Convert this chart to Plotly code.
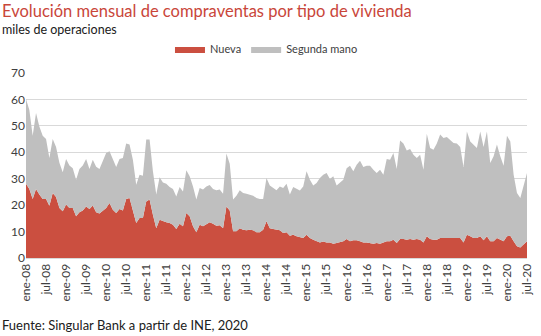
import plotly.graph_objects as go

meses = ["ene", "feb", "mar", "abr", "may", "jun", "jul", "ago", "sep", "oct", "nov", "dic"]
fechas = [f"{meses[m]}-{str(y)[2:]}" for y in range(2008, 2021) for m in range(12)][:151]

nueva = [
    28.1, 26.1, 22.3, 26.1, 24.0, 22.3, 22.3, 19.8, 24.6, 23.1, 18.9, 17.7,
    20.2, 18.9, 18.9, 15.8, 17.3, 18.0, 19.5, 18.5, 19.9, 17.3,
    16.8, 17.7, 18.9, 20.8, 18.3, 17.0, 18.5, 18.0, 22.3, 22.7, 18.3, 13.2,
    15.1, 15.1, 21.4, 22.1, 16.4, 11.3, 14.5, 13.9, 13.5, 13.2,
    12.6, 11.0, 13.0, 12.0, 17.0, 15.8, 12.0, 9.7, 12.6, 12.0, 12.6, 13.5,
    13.0, 12.2, 12.4, 11.3, 19.5, 18.0, 10.1, 10.1, 11.3,
    10.7, 10.5, 10.7, 10.5, 9.7, 9.7, 10.7, 13.9, 11.3, 11.0, 10.7, 10.5,
    9.5, 9.7, 8.4, 8.8, 8.2, 7.9, 7.6, 8.8, 7.6,
    6.9, 6.3, 5.9, 6.2, 5.9, 5.9, 5.4, 5.7, 5.9, 6.3, 7.2, 6.3,
    6.7, 6.7, 6.3, 5.9, 5.9, 5.7, 5.4, 5.7, 5.4,
    5.9, 6.3, 6.3, 6.9, 5.7, 7.2, 7.2, 6.9, 7.2, 6.9, 7.2, 6.9,
    5.9, 8.2, 7.2, 6.9, 6.9, 7.6, 7.6, 7.6, 7.6, 7.6,
    7.6, 7.6, 5.9, 8.8, 8.2, 7.6, 7.6, 8.2, 6.7, 8.2, 6.3, 6.3,
    7.6, 6.9, 6.3, 8.2, 8.4, 6.3, 4.4, 4.0, 5.0, 6.3,
]

segunda_mano = [
    32.1, 29.9, 24.0, 28.8, 25.8, 24.0, 22.7, 18.0, 20.4, 18.9, 17.1, 14.7,
    17.3, 16.1, 15.1, 13.8, 16.4, 17.0, 18.0, 15.2, 17.3, 17.2,
    16.9, 18.9, 20.8, 19.6, 18.9, 17.4, 19.0, 19.8, 21.0, 20.2, 18.9, 14.5,
    16.4, 16.0, 23.4, 22.7, 16.4, 12.7, 16.1, 14.7, 14.6, 13.7,
    13.5, 12.3, 13.9, 13.2, 16.2, 15.1, 15.1, 12.4, 13.9, 13.9, 14.5, 14.1,
    13.1, 13.4, 13.5, 13.0, 20.0, 17.7, 12.0, 13.5, 14.3,
    13.9, 13.8, 13.3, 13.1, 13.0, 12.6, 11.6, 16.4, 16.1, 15.5, 14.9, 16.6,
    17.0, 18.4, 15.6, 18.1, 17.9, 17.6, 19.5, 24.0, 22.0,
    20.5, 22.1, 24.4, 25.3, 26.3, 24.0, 25.5, 21.7, 22.7, 23.3, 26.8, 28.6,
    26.1, 28.6, 30.5, 28.5, 29.0, 29.2, 28.0, 26.5, 28.0,
    25.6, 31.2, 30.9, 32.8, 28.0, 37.3, 36.1, 33.8, 34.0, 32.2, 30.6, 32.2,
    27.5, 38.8, 34.4, 34.1, 36.4, 39.1, 37.8, 38.2, 36.9, 35.9,
    35.7, 34.4, 28.5, 39.1, 35.9, 35.3, 34.0, 39.7, 35.3, 39.7, 29.6, 32.2,
    35.3, 31.6, 28.6, 38.1, 35.7, 25.2, 20.2, 18.7, 22.1, 25.9,
]

x = list(range(len(fechas)))
tick_idx = x[::6]
tick_txt = [fechas[i] for i in tick_idx]

ROJO = "#CB4F40"
GRIS = "#BFBFBF"
FONT = "Lato"

fig = go.Figure()
fig.add_trace(go.Scatter(x=x, y=nueva, name="Nueva", mode="lines", stackgroup="a",
                         line=dict(width=0, color=ROJO), fillcolor=ROJO))
fig.add_trace(go.Scatter(x=x, y=segunda_mano, name="Segunda mano", mode="lines", stackgroup="a",
                         line=dict(width=0, color=GRIS), fillcolor=GRIS))

PH = 185.0
fig.update_layout(
    width=541, height=336,
    margin=dict(l=26, r=14, t=73, b=78, autoexpand=False),
    paper_bgcolor="white", plot_bgcolor="white",
    font=dict(family=FONT, size=12, color="#404040"),
    showlegend=True,
    legend=dict(orientation="h", x=0.48, xanchor="center", y=1 + (73 - 49) / PH, yanchor="middle",
                traceorder="normal", font=dict(size=11, color="#404040"),
                itemwidth=30, tracegroupgap=0),
    xaxis=dict(range=[0, 150], tickmode="array", tickvals=tick_idx, ticktext=tick_txt,
               tickangle=-90, showgrid=False, zeroline=False, showline=True, automargin=False,
               linecolor="#D9D9D9", linewidth=1, ticks="", tickfont=dict(size=12, color="#404040")),
    yaxis=dict(range=[0, 70], dtick=10, showgrid=True, gridcolor="#D9D9D9", gridwidth=1,
               zeroline=False, ticks="", automargin=False, tickfont=dict(size=12, color="#404040")),
    annotations=[
        dict(text="Evolución mensual de compraventas por tipo de vivienda", xref="paper", yref="paper",
             x=-26/501, y=1 + (73 - 10.5) / PH, xanchor="left", yanchor="middle", showarrow=False,
             font=dict(family=FONT, size=16.5, color="#C9463A")),
        dict(text="miles de operaciones", xref="paper", yref="paper",
             x=-26/501, y=1 + (73 - 29) / PH, xanchor="left", yanchor="middle", showarrow=False,
             font=dict(family=FONT, size=12.5, color="#202020")),
        dict(text="Fuente: Singular Bank a partir de INE, 2020", xref="paper", yref="paper",
             x=-26/501, y=-(325 - 258) / PH, xanchor="left", yanchor="middle", showarrow=False,
             font=dict(family=FONT, size=13, color="#202020")),
    ],
)

fig.write_html("out.html")
